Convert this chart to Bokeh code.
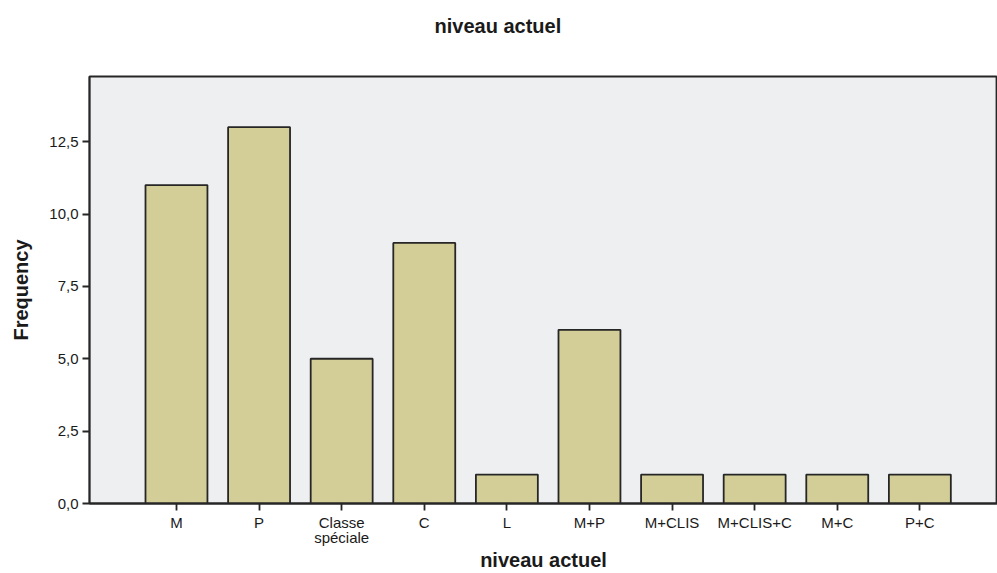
from bokeh.plotting import figure
from bokeh.models import ColumnDataSource, Range1d, FixedTicker, Title
from bokeh.embed import file_html
from bokeh.resources import INLINE

categories = ["M", "P", "Classe\nspéciale", "C", "L", "M+P", "M+CLIS", "M+CLIS+C", "M+C", "P+C"]
frequencies = [11, 13, 5, 9, 1, 6, 1, 1, 1, 1]
y_ticks = [0.0, 2.5, 5.0, 7.5, 10.0, 12.5]
y_tick_labels = ["0,0", "2,5", "5,0", "7,5", "10,0", "12,5"]
title_text = "niveau actuel"

FONT = "Liberation Sans"
DARK = "#262626"

xs = list(range(len(categories)))
src = ColumnDataSource(dict(x=xs, top=frequencies))

p = figure(width=997, height=573, output_backend="svg", toolbar_location=None,
           x_range=Range1d(-1.053, 9.94), y_range=Range1d(0, 14.75),
           min_border_left=89, min_border_right=0, min_border_top=76, min_border_bottom=70)

p.title = Title(text=title_text, text_font=FONT, text_font_size="20px",
                text_font_style="bold", text_color="#1a1a1a", align="left", offset=345,
                standoff=0)
# blank spacer between the title and the frame
p.add_layout(Title(text=" ", text_font=FONT, text_font_size="20px", standoff=16), "above")

p.vbar(x="x", top="top", width=0.75, bottom=0, source=src,
       fill_color="#d3ce98", line_color=DARK, line_width=1.8)

p.background_fill_color = "#eeeff1"
p.border_fill_color = "white"
p.outline_line_color = DARK
p.outline_line_width = 1.8
p.xgrid.visible = False
p.ygrid.visible = False

xa = p.xaxis[0]
xa.ticker = FixedTicker(ticks=xs)
xa.major_label_overrides = {i: c for i, c in zip(xs, categories)}
xa.axis_label = "niveau actuel"
xa.axis_label_text_font = FONT
xa.axis_label_text_font_size = "20px"
xa.axis_label_text_font_style = "bold"
xa.axis_label_text_color = "#1a1a1a"
xa.axis_label_standoff = 0
xa.major_label_text_font = FONT
xa.major_label_text_font_size = "15px"
xa.major_label_text_color = "#1a1a1a"
xa.major_label_text_line_height = 0.9
xa.major_label_standoff = 3
xa.major_tick_in = 0
xa.major_tick_out = 7
xa.minor_tick_out = 0
xa.minor_tick_in = 0
xa.axis_line_color = DARK
xa.axis_line_width = 1.8
xa.major_tick_line_color = DARK
xa.major_tick_line_width = 1.8

ya = p.yaxis[0]
ya.ticker = FixedTicker(ticks=y_ticks)
ya.major_label_overrides = {t: l for t, l in zip(y_ticks, y_tick_labels)}
ya.axis_label = "Frequency"
ya.axis_label_text_font = FONT
ya.axis_label_text_font_size = "20px"
ya.axis_label_text_font_style = "bold"
ya.axis_label_text_color = "#1a1a1a"
ya.axis_label_standoff = 14
ya.major_label_text_font = FONT
ya.major_label_text_font_size = "15px"
ya.major_label_text_color = "#1a1a1a"
ya.major_label_standoff = 4
ya.major_tick_in = 0
ya.major_tick_out = 7
ya.minor_tick_out = 0
ya.minor_tick_in = 0
ya.axis_line_color = DARK
ya.axis_line_width = 1.8
ya.major_tick_line_color = DARK
ya.major_tick_line_width = 1.8

open("out.html", "w").write(file_html(p, INLINE))
